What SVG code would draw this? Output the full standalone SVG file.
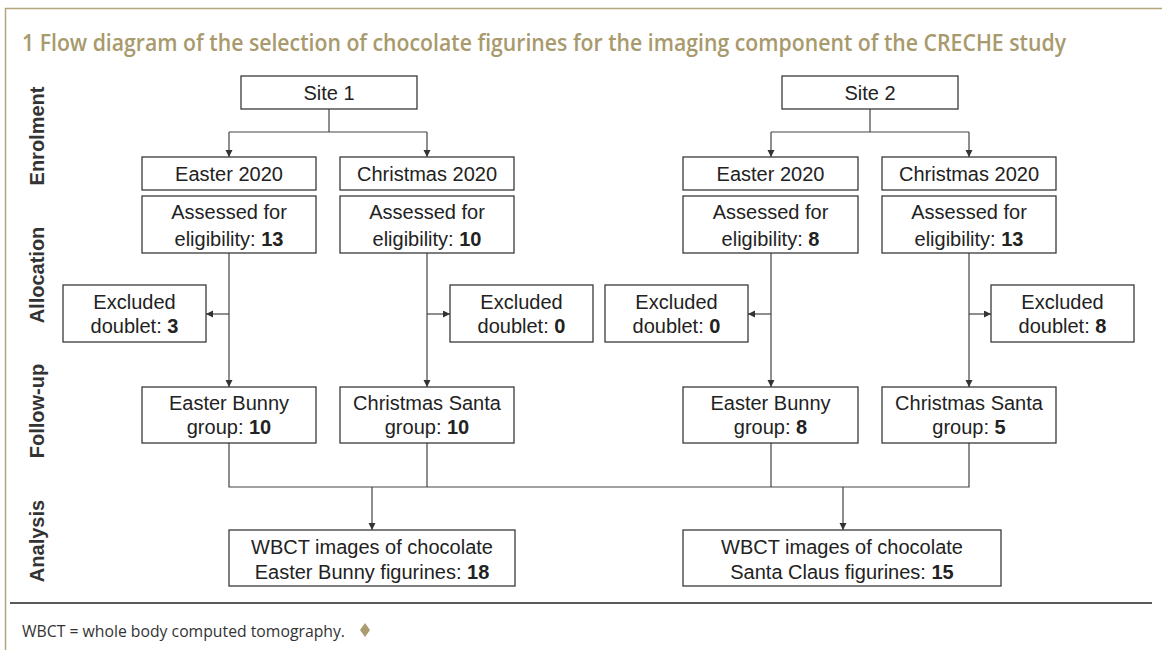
<svg xmlns="http://www.w3.org/2000/svg" width="1162" height="650" viewBox="0 0 1162 650">
<defs>
<marker id="arr" markerUnits="userSpaceOnUse" markerWidth="8" markerHeight="8" refX="7" refY="3.5" orient="auto">
<path d="M0,0 L7,3.5 L0,7 z" fill="#333"/>
</marker>
<style>
.box{fill:#fff;stroke:#3a3a3a;stroke-width:1.3}
.t{font-family:"Liberation Sans",Arial,sans-serif;font-size:20px;fill:#222;text-anchor:middle}
.b{font-weight:bold}
.row{font-family:"Liberation Sans",Arial,sans-serif;font-size:20px;font-weight:bold;fill:#333;text-anchor:middle}
.c{fill:none;stroke:#444;stroke-width:1.2}
.ca{fill:none;stroke:#444;stroke-width:1.2;marker-end:url(#arr)}
</style>
</defs>
<rect width="1162" height="650" fill="#fff"/>
<path d="M5.5,650 V8.5 H1162" fill="none" stroke="#b3a57c" stroke-width="1.5"/>
<text x="22" y="51" font-family="'Open Sans',sans-serif" font-size="23" font-weight="600" fill="#a89a6c" textLength="1044" lengthAdjust="spacingAndGlyphs">1 Flow diagram of the selection of chocolate figurines for the imaging component of the CRECHE study</text>

<g id="row-labels">
<text class="row" transform="translate(44,136) rotate(-90)">Enrolment</text>
<text class="row" transform="translate(44,275) rotate(-90)">Allocation</text>
<text class="row" transform="translate(44,411) rotate(-90)">Follow-up</text>
<text class="row" transform="translate(44,541) rotate(-90)">Analysis</text>
</g>

<g id="connectors">
<path class="c" d="M329,109 V132 M229,132 H427"/>
<path class="ca" d="M229,132 V157"/>
<path class="ca" d="M427,132 V157"/>
<path class="c" d="M870,109 V132 M771,132 H969"/>
<path class="ca" d="M771,132 V157"/>
<path class="ca" d="M969,132 V157"/>
<path class="ca" d="M229,253 V387"/>
<path class="ca" d="M427,253 V387"/>
<path class="ca" d="M771,253 V387"/>
<path class="ca" d="M969,253 V387"/>
<path class="ca" d="M229,314 H206"/>
<path class="ca" d="M427,314 H450"/>
<path class="ca" d="M771,314 H748"/>
<path class="ca" d="M969,314 H991"/>
<path class="c" d="M229,443 V487 H969 V443 M427,443 V487 M771,443 V487"/>
<path class="ca" d="M372,487 V530"/>
<path class="ca" d="M843,487 V530"/>
</g>

<g id="site1"><rect class="box" x="241" y="76" width="176" height="33"/><text class="t" x="329" y="99.5">Site 1</text></g>
<g id="site2"><rect class="box" x="782" y="76" width="176" height="33"/><text class="t" x="870" y="99.5">Site 2</text></g>

<g id="s1-easter"><rect class="box" x="142" y="157" width="174" height="33"/><text class="t" x="229" y="180.5">Easter 2020</text></g>
<g id="s1-christmas"><rect class="box" x="340" y="157" width="174" height="33"/><text class="t" x="427" y="180.5">Christmas 2020</text></g>
<g id="s2-easter"><rect class="box" x="683" y="157" width="175" height="33"/><text class="t" x="770.5" y="180.5">Easter 2020</text></g>
<g id="s2-christmas"><rect class="box" x="882" y="157" width="174" height="33"/><text class="t" x="969" y="180.5">Christmas 2020</text></g>

<g id="s1-easter-assessed"><rect class="box" x="142" y="196" width="174" height="57"/><text class="t" x="229" y="219">Assessed for</text><text class="t" x="229" y="246">eligibility: <tspan class="b">13</tspan></text></g>
<g id="s1-christmas-assessed"><rect class="box" x="340" y="196" width="174" height="57"/><text class="t" x="427" y="219">Assessed for</text><text class="t" x="427" y="246">eligibility: <tspan class="b">10</tspan></text></g>
<g id="s2-easter-assessed"><rect class="box" x="683" y="196" width="175" height="57"/><text class="t" x="770.5" y="219">Assessed for</text><text class="t" x="770.5" y="246">eligibility: <tspan class="b">8</tspan></text></g>
<g id="s2-christmas-assessed"><rect class="box" x="882" y="196" width="174" height="57"/><text class="t" x="969" y="219">Assessed for</text><text class="t" x="969" y="246">eligibility: <tspan class="b">13</tspan></text></g>

<g id="s1-easter-excluded"><rect class="box" x="63" y="285" width="143" height="57"/><text class="t" x="134.5" y="309">Excluded</text><text class="t" x="134.5" y="333">doublet: <tspan class="b">3</tspan></text></g>
<g id="s1-christmas-excluded"><rect class="box" x="450" y="285" width="143" height="57"/><text class="t" x="521.5" y="309">Excluded</text><text class="t" x="521.5" y="333">doublet: <tspan class="b">0</tspan></text></g>
<g id="s2-easter-excluded"><rect class="box" x="605" y="285" width="143" height="57"/><text class="t" x="676.5" y="309">Excluded</text><text class="t" x="676.5" y="333">doublet: <tspan class="b">0</tspan></text></g>
<g id="s2-christmas-excluded"><rect class="box" x="991" y="285" width="143" height="57"/><text class="t" x="1062.5" y="309">Excluded</text><text class="t" x="1062.5" y="333">doublet: <tspan class="b">8</tspan></text></g>

<g id="s1-bunny"><rect class="box" x="142" y="387" width="174" height="56"/><text class="t" x="229" y="410">Easter Bunny</text><text class="t" x="229" y="434">group: <tspan class="b">10</tspan></text></g>
<g id="s1-santa"><rect class="box" x="340" y="387" width="174" height="56"/><text class="t" x="427" y="410">Christmas Santa</text><text class="t" x="427" y="434">group: <tspan class="b">10</tspan></text></g>
<g id="s2-bunny"><rect class="box" x="683" y="387" width="175" height="56"/><text class="t" x="770.5" y="410">Easter Bunny</text><text class="t" x="770.5" y="434">group: <tspan class="b">8</tspan></text></g>
<g id="s2-santa"><rect class="box" x="882" y="387" width="174" height="56"/><text class="t" x="969" y="410">Christmas Santa</text><text class="t" x="969" y="434">group: <tspan class="b">5</tspan></text></g>

<g id="analysis-bunny"><rect class="box" x="229" y="530" width="286" height="56"/><text class="t" x="372" y="554">WBCT images of chocolate</text><text class="t" x="372" y="579">Easter Bunny figurines: <tspan class="b">18</tspan></text></g>
<g id="analysis-santa"><rect class="box" x="683" y="530" width="318" height="56"/><text class="t" x="842" y="554">WBCT images of chocolate</text><text class="t" x="842" y="579">Santa Claus figurines: <tspan class="b">15</tspan></text></g>

<line x1="10" y1="603" x2="1152" y2="603" stroke="#222" stroke-width="1.5"/>
<text x="22" y="637" font-family="'Open Sans',sans-serif" font-size="16.5" fill="#333" textLength="323" lengthAdjust="spacingAndGlyphs">WBCT = whole body computed tomography.</text>
<path d="M365,623 L370,630 L365,637 L360,630 z" fill="#ab9c6f"/>
</svg>
